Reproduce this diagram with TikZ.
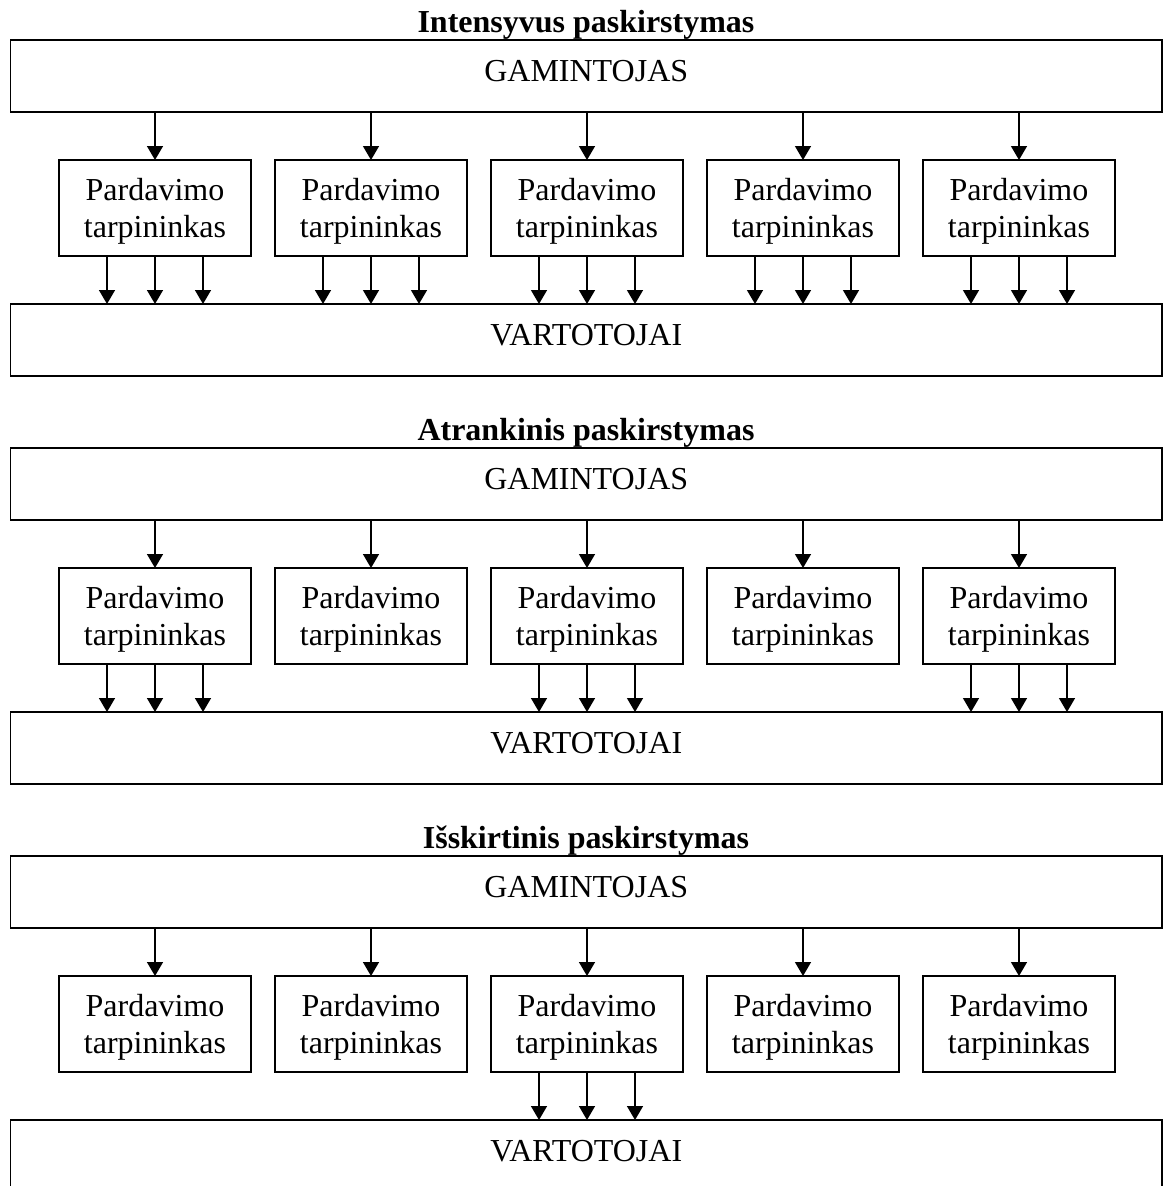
\documentclass[tikz,border=0pt]{standalone}
\usepackage{fontspec}
\setmainfont{Liberation Serif}
\usetikzlibrary{arrows.meta}
\begin{document}
\begin{tikzpicture}[x=1pt,y=-1pt,
  every node/.style={font=\fontsize{32}{37}\selectfont},
  big/.style={draw, line width=1.5pt, minimum width=1151.5pt, minimum height=72pt,
    inner sep=0pt, outer sep=0pt, text height=22pt, text depth=12pt},
  mid/.style={draw, line width=1.5pt, minimum width=192pt, minimum height=96pt,
    inner sep=0pt, outer sep=0pt, align=center, text depth=0.9pt},
  ttl/.style={anchor=base, font=\fontsize{32}{37}\selectfont\bfseries},
  arr/.style={line width=1.5pt, -{Triangle[length=14pt,width=16pt]}}
]
\useasboundingbox (0,0) rectangle (1163,1186);
\clip (0,0) rectangle (1163,1186);
\foreach \s/\top/\title/\low in {
    1/40/{Intensyvus paskirstymas}/{1,2,3,4,5},
    2/448/{Atrankinis paskirstymas}/{1,3,5},
    3/856/{Išskirtinis paskirstymas}/{3}} {
  % heading, producer and consumers
  \node[ttl] (t\s) at (586, \top-8) {\title};
  \node[big] (g\s) at (586.25, \top+36) {GAMINTOJAS};
  \node[big] (v\s) at (586.25, \top+300) {VARTOTOJAI};
  % intermediaries fed by the producer
  \foreach \i in {1,...,5} {
    \node[mid] (p\s\i) at (155+216*\i-216, \top+168) {Pardavimo\\tarpininkas};
    \draw[arr] (p\s\i.north |- g\s.south) -- (p\s\i.north);
  }
  % intermediaries that serve the consumers
  \foreach \i in \low {
    \foreach \d in {-48,0,48} {
      \draw[arr] ([xshift=\d pt]p\s\i.south) -- ([xshift=\d pt]p\s\i.south |- v\s.north);
    }
  }
}
\end{tikzpicture}
\end{document}
